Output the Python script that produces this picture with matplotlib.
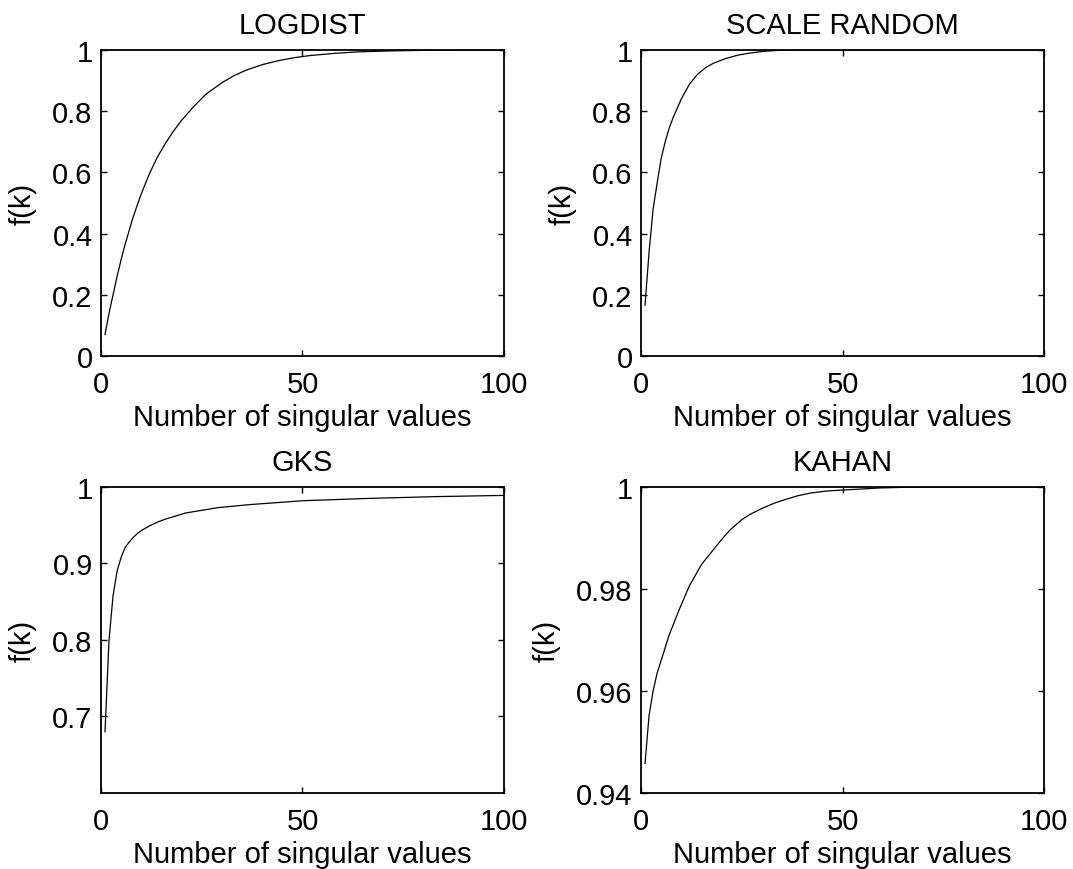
import numpy as np
import matplotlib.pyplot as plt

plt.rcParams['font.family'] = ['Liberation Sans', 'DejaVu Sans']

# valores (k, f(k))
k_logdist = [1, 2, 3, 4, 5, 6, 8, 10, 12, 14, 16, 18, 20, 23, 26, 30, 33, 36, 40, 44, 48, 52, 58, 64, 72, 81, 90, 100]
f_logdist = [0.07, 0.14, 0.2, 0.26, 0.315, 0.365, 0.455, 0.53, 0.595, 0.65, 0.695, 0.735, 0.77, 0.815, 0.855,
             0.893, 0.916, 0.934, 0.952, 0.965, 0.975, 0.982, 0.989, 0.994, 0.997, 0.999, 1.0, 1.0]

k_scale = [1, 2, 3, 4, 5, 6, 7, 8, 9, 10, 12, 14, 16, 18, 21, 24, 27, 30, 33, 37, 50, 100]
f_scale = [0.166, 0.34, 0.48, 0.565, 0.645, 0.70, 0.745, 0.78, 0.81, 0.84, 0.888, 0.92, 0.942, 0.957,
           0.972, 0.983, 0.99, 0.995, 0.998, 1.0, 1.0, 1.0]

k_gks = [1, 2, 3, 4, 5, 6, 7, 8, 9, 10, 12, 14, 16, 21, 29, 37, 50, 66, 83, 100]
f_gks = [0.68, 0.80, 0.858, 0.89, 0.908, 0.921, 0.928, 0.934, 0.939, 0.943, 0.949, 0.954, 0.958, 0.966,
         0.973, 0.977, 0.982, 0.985, 0.9874, 0.989]

k_kahan = [1, 2, 3, 4, 5, 7, 9.5, 12, 15, 20, 22, 25, 27, 30, 33, 36, 39, 42, 46, 50, 59, 68, 100]
f_kahan = [0.9458, 0.9552, 0.9600, 0.9635, 0.9660, 0.9710, 0.9760, 0.9806, 0.9848, 0.9897, 0.9915, 0.9936,
           0.9946, 0.9958, 0.9968, 0.9976, 0.9983, 0.9988, 0.9992, 0.9994, 0.9998, 1.0, 1.0]

titulos = ['LOGDIST', 'SCALE RANDOM', 'GKS', 'KAHAN']
dados = [(k_logdist, f_logdist), (k_scale, f_scale), (k_gks, f_gks), (k_kahan, f_kahan)]
ylims = [(0, 1), (0, 1), (0.6, 1), (0.94, 1)]
yticks = [[0, 0.2, 0.4, 0.6, 0.8, 1], [0, 0.2, 0.4, 0.6, 0.8, 1], [0.7, 0.8, 0.9, 1], [0.94, 0.96, 0.98, 1]]
yticklabels = [['0', '0.2', '0.4', '0.6', '0.8', '1'], ['0', '0.2', '0.4', '0.6', '0.8', '1'],
               ['0.7', '0.8', '0.9', '1'], ['0.94', '0.96', '0.98', '1']]

# posicoes dos eixos (esq, baixo, largura, altura) em fracao da figura
posicoes = [(0.0941, 0.5897, 0.3756, 0.3517), (0.5974, 0.5897, 0.3756, 0.3517),
            (0.0941, 0.0874, 0.3756, 0.3517), (0.5974, 0.0874, 0.3756, 0.3517)]

fs = 21

fig = plt.figure(figsize=(10.73, 8.70), dpi=100)

for i in range(4):
    ax = fig.add_axes(posicoes[i])
    k, f = dados[i]
    ax.plot(k, f, color='black', linewidth=0.9)
    ax.set_xlim(0, 100)
    ax.set_ylim(*ylims[i])
    ax.set_xticks([0, 50, 100])
    ax.set_xticklabels(['0', '50', '100'])
    ax.set_yticks(yticks[i])
    ax.set_yticklabels(yticklabels[i])
    ax.tick_params(direction='in', length=4, width=1, top=True, right=True, labelsize=fs)
    ax.tick_params(axis='x', pad=10)
    ax.tick_params(axis='y', pad=6)
    for s in ax.spines.values():
        s.set_linewidth(1.3)
    ax.set_title(titulos[i], fontsize=fs, pad=12)
    ax.set_xlabel('Number of singular values', fontsize=fs, labelpad=4)
    ax.set_ylabel('f(k)', fontsize=fs, labelpad=11)

plt.savefig('out.png', dpi=100)
